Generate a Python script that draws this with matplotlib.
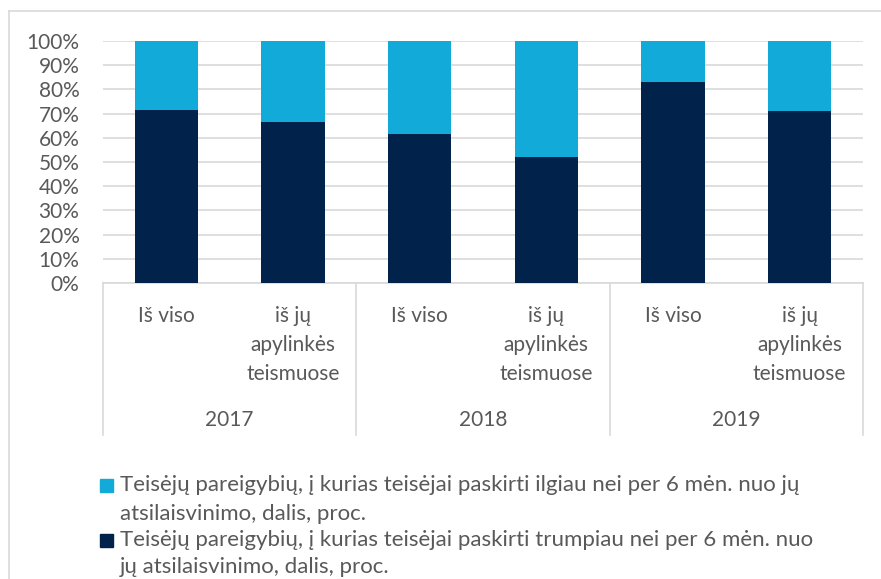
import matplotlib.pyplot as plt
from matplotlib.lines import Line2D
from matplotlib.patches import Rectangle
import matplotlib.transforms as mtransforms

plt.rcParams['font.family'] = ['Lato', 'DejaVu Sans']

# data
years = ["2017", "2018", "2019"]
sub_labels = ["Iš viso", "iš jų\napylinkės\nteismuose"] * 3
short_share = [71.3, 66.6, 61.5, 51.9, 82.9, 71.0]   # trumpiau nei 6 mėn.
long_share = [28.7, 33.4, 38.5, 48.1, 17.1, 29.0]    # ilgiau nei 6 mėn.
legend_labels = [
    "Teisėjų pareigybių, į kurias teisėjai paskirti ilgiau nei per 6 mėn. nuo jų\natsilaisvinimo, dalis, proc.",
    "Teisėjų pareigybių, į kurias teisėjai paskirti trumpiau nei per 6 mėn. nuo\njų atsilaisvinimo, dalis, proc.",
]

DARK = "#00224B"
LIGHT = "#12AAD9"
TXT = "#595959"
GRID = "#D9D9D9"
FS = 15
FS_LEG = 16

W, H = 881, 579
fig = plt.figure(figsize=(W / 100, H / 100), dpi=100)
ax = fig.add_axes([103 / W, 1 - 283 / H, 760 / W, 242 / H])

x = list(range(len(short_share)))
ax.bar(x, short_share, width=0.5, color=DARK, zorder=3)
ax.bar(x, long_share, width=0.5, bottom=short_share, color=LIGHT, zorder=3)

ax.set_xlim(-0.5, len(x) - 0.5)
ax.set_ylim(0, 100)
ax.set_yticks(range(0, 101, 10))
ax.set_yticklabels([f"{v}%" for v in range(0, 101, 10)], color=TXT, fontsize=FS)
ax.tick_params(axis='y', length=0, pad=17)
ax.set_xticks([])
ax.grid(axis='y', color=GRID, linewidth=1.2, zorder=0)
for s in ['top', 'right', 'left']:
    ax.spines[s].set_visible(False)
ax.spines['bottom'].set_color(GRID)
ax.spines['bottom'].set_linewidth(1.2)

# multi-level category axis
trans = mtransforms.blended_transform_factory(ax.transData, fig.transFigure)
line_y = [1 - 316 / H, 1 - 345 / H, 1 - 374 / H]
for xi, lab in zip(x, sub_labels):
    for k, part in enumerate(lab.split("\n")):
        fig.text(xi, line_y[k], part, transform=trans, ha='center', va='center',
                 color=TXT, fontsize=FS)
for g, yr in enumerate(years):
    fig.text(2 * g + 0.5, 1 - 420 / H, yr, transform=trans, ha='center', va='center',
             color=TXT, fontsize=FS)
for b in [-0.5, 1.5, 3.5, 5.5]:
    fig.add_artist(Line2D([b, b], [1 - 283 / H, 1 - 435 / H], transform=trans,
                          color=GRID, linewidth=1.2))

# legend drawn by hand so the square sits on the first line
rows = [(485, 514), (540, 567)]
for lab, col, (y1, y2) in zip(legend_labels, [LIGHT, DARK], rows):
    fig.add_artist(Rectangle((100 / W, 1 - (y1 + 7) / H), 13 / W, 13 / H,
                             transform=fig.transFigure, color=col))
    for part, yy in zip(lab.split("\n"), (y1, y2)):
        fig.text(120 / W, 1 - yy / H, part, ha='left', va='center', color=TXT, fontsize=FS_LEG)

# outer frame
fig.add_artist(Line2D([9 / W, 1], [1 - 11 / H, 1 - 11 / H], color=GRID, linewidth=1.2))
fig.add_artist(Line2D([9 / W, 9 / W], [0, 1 - 11 / H], color=GRID, linewidth=1.2))

fig.savefig("out.png", dpi=100)
